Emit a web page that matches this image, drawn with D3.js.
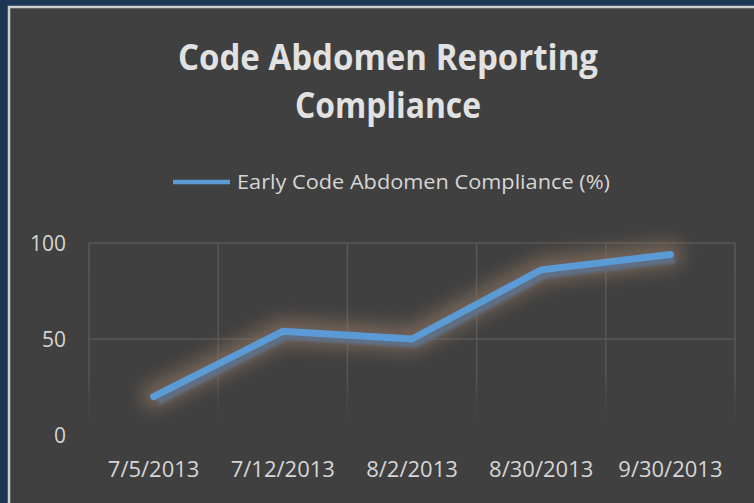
<!DOCTYPE html>
<html>
<head>
<meta charset="utf-8">
<script src="https://cdn.jsdelivr.net/npm/d3@7"></script>
<style>
  html, body { margin: 0; padding: 0; background: #1b3552; }
  svg { display: block; }
</style>
</head>
<body>
<div id="chart"></div>
<script>
// chart data
const dates = ["7/5/2013", "7/12/2013", "8/2/2013", "8/30/2013", "9/30/2013"];
const compliance = [20, 54, 50, 86, 94];
const yTicks = [0, 50, 100];
const seriesName = "Early Code Abdomen Compliance (%)";
const titleLines = ["Code Abdomen Reporting", "Compliance"];

const WIDTH = 754, HEIGHT = 503;
const plot = { left: 89, right: 735, top: 243, bottom: 435 };

const svg = d3.select("#chart").append("svg")
    .attr("width", WIDTH)
    .attr("height", HEIGHT);

const defs = svg.append("defs");
defs.append("filter").attr("id", "glow")
    .attr("x", "-30%").attr("y", "-80%").attr("width", "160%").attr("height", "260%")
    .append("feGaussianBlur").attr("stdDeviation", 9);
defs.append("filter").attr("id", "soft")
    .append("feGaussianBlur").attr("stdDeviation", 1.5);

// fade for the vertical grid lines towards the bottom
const fade = defs.append("linearGradient").attr("id", "fade")
    .attr("gradientUnits", "userSpaceOnUse")
    .attr("x1", 0).attr("y1", plot.top).attr("x2", 0).attr("y2", plot.bottom);
fade.append("stop").attr("offset", "0%").attr("stop-color", "#5a5856");
fade.append("stop").attr("offset", "70%").attr("stop-color", "#575553");
fade.append("stop").attr("offset", "100%").attr("stop-color", "#404040").attr("stop-opacity", 0);

// navy page background + chart card
svg.append("rect").attr("width", WIDTH).attr("height", HEIGHT).attr("fill", "#1c3654");
svg.append("rect")
    .attr("x", 9).attr("y", 7)
    .attr("width", WIDTH + 10).attr("height", HEIGHT + 10)
    .attr("fill", "#404040")
    .attr("stroke", "#cfcfcf")
    .attr("stroke-width", 2.5);

// scales
const xScale = d3.scaleBand().domain(dates).range([plot.left, plot.right]).padding(0);
const yScale = d3.scaleLinear().domain([0, 100]).range([plot.bottom, plot.top]);

// grid lines
const grid = svg.append("g");
grid.selectAll("line.h")
    .data(yTicks.filter(d => d > 0))
    .enter().append("line")
    .attr("x1", plot.left).attr("x2", plot.right)
    .attr("y1", d => yScale(d)).attr("y2", d => yScale(d))
    .attr("stroke", "#595755").attr("stroke-width", 1.5);

const vx = dates.map(d => xScale(d)).concat([plot.right]);
grid.selectAll("line.v")
    .data(vx)
    .enter().append("line")
    .attr("x1", d => d).attr("x2", d => d)
    .attr("y1", plot.top).attr("y2", plot.bottom)
    .attr("stroke", "url(#fade)").attr("stroke-width", 1.5);

// y axis labels
const yAxis = svg.append("g")
    .attr("transform", `translate(${plot.left - 23},0)`)
    .call(d3.axisLeft(yScale).tickValues(yTicks).tickSize(0).tickPadding(0));
yAxis.select(".domain").remove();
yAxis.selectAll("text")
    .attr("fill", "#d6d6d6")
    .attr("font-family", "'Open Sans', sans-serif")
    .attr("font-size", 21)
    .attr("dy", "0.35em");

// x axis labels
const xAxis = svg.append("g")
    .attr("transform", `translate(0,${plot.bottom + 26})`)
    .call(d3.axisBottom(xScale).tickSize(0).tickPadding(0));
xAxis.select(".domain").remove();
xAxis.selectAll("text")
    .attr("fill", "#d6d6d6")
    .attr("font-family", "'Open Sans', sans-serif")
    .attr("font-size", 22)
    .attr("dy", "0.71em");

// the series line
const pts = dates.map((d, i) => ({ x: d, y: compliance[i] }));
const lineGenerator = d3.line()
    .x(d => xScale(d.x) + xScale.bandwidth() / 2)
    .y(d => yScale(d.y));

svg.append("path")
    .datum(pts)
    .attr("d", lineGenerator)
    .attr("fill", "none")
    .attr("stroke", "#8f7563")
    .attr("stroke-opacity", 0.7)
    .attr("stroke-width", 24)
    .attr("stroke-linejoin", "round")
    .attr("stroke-linecap", "round")
    .attr("filter", "url(#glow)");

svg.append("path")
    .datum(pts)
    .attr("d", lineGenerator)
    .attr("transform", "translate(4,5)")
    .attr("fill", "none")
    .attr("stroke", "#5e6f86")
    .attr("stroke-width", 7)
    .attr("stroke-linejoin", "round")
    .attr("filter", "url(#soft)");

svg.append("path")
    .datum(pts)
    .attr("d", lineGenerator)
    .attr("fill", "none")
    .attr("stroke", "#5b9bd5")
    .attr("stroke-width", 7)
    .attr("stroke-linejoin", "round")
    .attr("stroke-linecap", "round");

// legend
const legend = svg.append("g").attr("transform", "translate(173,182)");
legend.append("line")
    .attr("x1", 0).attr("x2", 57)
    .attr("stroke", "#5b9bd5").attr("stroke-width", 4.5);
legend.append("text")
    .attr("x", 64).attr("y", 0).attr("dy", "0.35em")
    .attr("fill", "#d6d6d6")
    .attr("font-family", "'Open Sans', sans-serif")
    .attr("font-size", 20)
    .attr("textLength", 373)
    .attr("lengthAdjust", "spacingAndGlyphs")
    .text(seriesName);

// title
svg.append("g").selectAll("text")
    .data(titleLines)
    .enter().append("text")
    .attr("x", 388)
    .attr("y", (d, i) => 70 + i * 48)
    .attr("text-anchor", "middle")
    .attr("fill", "#e2e2e2")
    .attr("font-family", "'Open Sans', sans-serif")
    .attr("font-weight", "bold")
    .attr("font-size", 35)
    .attr("textLength", (d, i) => i === 0 ? 420 : 186)
    .attr("lengthAdjust", "spacingAndGlyphs")
    .text(d => d);
</script>
</body>
</html>
